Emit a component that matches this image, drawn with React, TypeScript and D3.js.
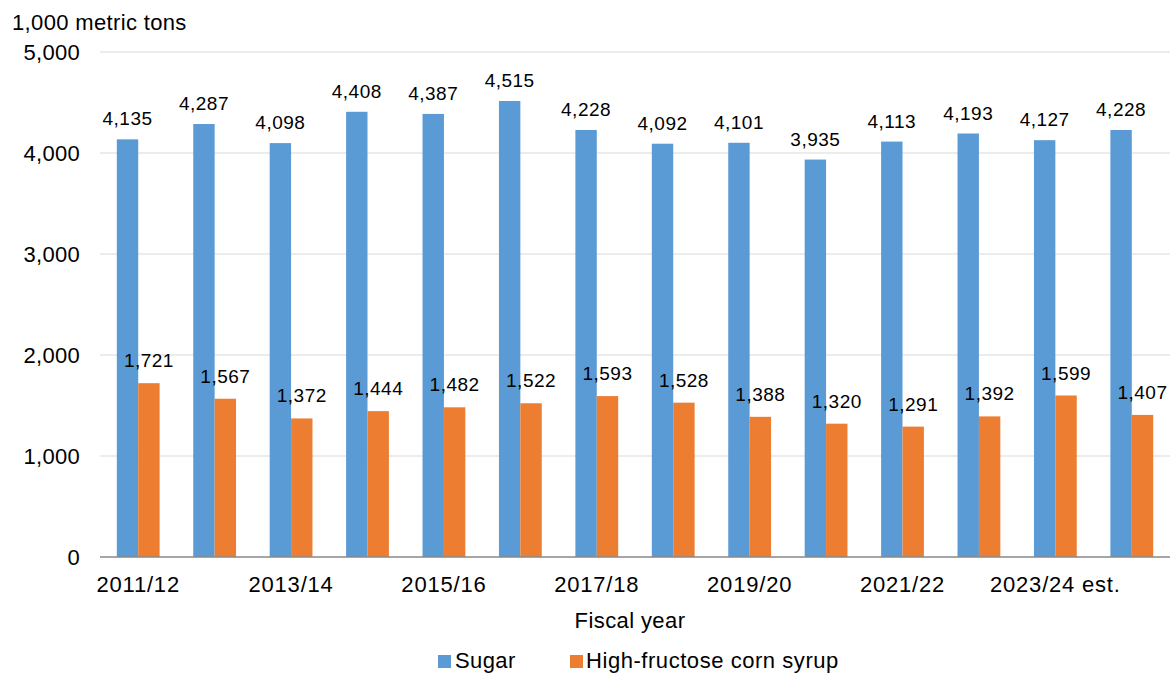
import React from "react";
import * as d3 from "d3";

const categories = [
  "2011/12", "2012/13", "2013/14", "2014/15", "2015/16", "2016/17", "2017/18",
  "2018/19", "2019/20", "2020/21", "2021/22", "2022/23", "2023/24 est.", "2024/25 proj.",
];
const sugar = [4135, 4287, 4098, 4408, 4387, 4515, 4228, 4092, 4101, 3935, 4113, 4193, 4127, 4228];
const hfcs = [1721, 1567, 1372, 1444, 1482, 1522, 1593, 1528, 1388, 1320, 1291, 1392, 1599, 1407];
const yTicks = [0, 1000, 2000, 3000, 4000, 5000];
const seriesNames = ["Sugar", "High-fructose corn syrup"];
const colors = ["#5B9BD5", "#ED7D31"];

const W = 1170;
const H = 673;
const left = 100;
const right = 1170;
const top = 52;
const bottom = 557;
const font = "'Liberation Sans', Arial, sans-serif";

export default function App() {
  const x = d3.scaleBand<string>().domain(categories).range([left, right]).paddingInner(0.44).paddingOuter(0.22);
  const inner = d3.scaleBand<string>().domain(["0", "1"]).range([0, x.bandwidth()]);
  const y = d3.scaleLinear().domain([0, 5000]).range([bottom, top]);
  const fmt = d3.format(",");
  const series = [sugar, hfcs];

  return (
    <svg width={W} height={H} style={{ position: "absolute", left: 0, top: 0, background: "#fff" }} fontFamily={font}>
      {yTicks.filter((t) => t > 0).map((t) => (
        <line key={t} x1={left} x2={right} y1={y(t)} y2={y(t)} stroke="#d9d9d9" strokeWidth={1} />
      ))}
      {yTicks.map((t) => (
        <text key={"yl" + t} x={80} y={y(t)} dy="0.36em" textAnchor="end" fontSize={22} letterSpacing={0.3} fill="#000">
          {fmt(t)}
        </text>
      ))}
      <text x={12} y={30} fontSize={22} letterSpacing={0.35} fill="#000">1,000 metric tons</text>
      {series.map((vals, si) =>
        vals.map((v, i) => {
          const bx = (x(categories[i]) as number) + (inner(String(si)) as number);
          return (
            <g key={si + "-" + i}>
              <rect x={bx} y={y(v)} width={inner.bandwidth()} height={bottom - y(v)} fill={colors[si]} />
              <text
                x={bx + inner.bandwidth() / 2}
                y={y(v) - (si === 0 ? 14 : 16)}
                textAnchor="middle"
                fontSize={19}
                letterSpacing={0.5}
                fill="#000"
              >
                {fmt(v)}
              </text>
            </g>
          );
        })
      )}
      <line x1={left} x2={right} y1={bottom} y2={bottom} stroke="#898989" strokeWidth={1.5} />
      {categories.map((c, i) =>
        i % 2 === 0 ? (
          <text key={"xl" + c} x={(x(c) as number) + x.bandwidth() / 2} y={592} textAnchor="middle" fontSize={22} letterSpacing={0.8} fill="#000">
            {c}
          </text>
        ) : null
      )}
      <text x={630} y={628} textAnchor="middle" fontSize={22} letterSpacing={0.4} fill="#000">Fiscal year</text>
      <g>
        <rect x={438} y={655} width={13} height={13} fill={colors[0]} />
        <text x={455} y={668} fontSize={22} letterSpacing={0.4} fill="#000">{seriesNames[0]}</text>
        <rect x={570} y={655} width={13} height={13} fill={colors[1]} />
        <text x={586} y={668} fontSize={22} letterSpacing={0.55} fill="#000">{seriesNames[1]}</text>
      </g>
    </svg>
  );
}
